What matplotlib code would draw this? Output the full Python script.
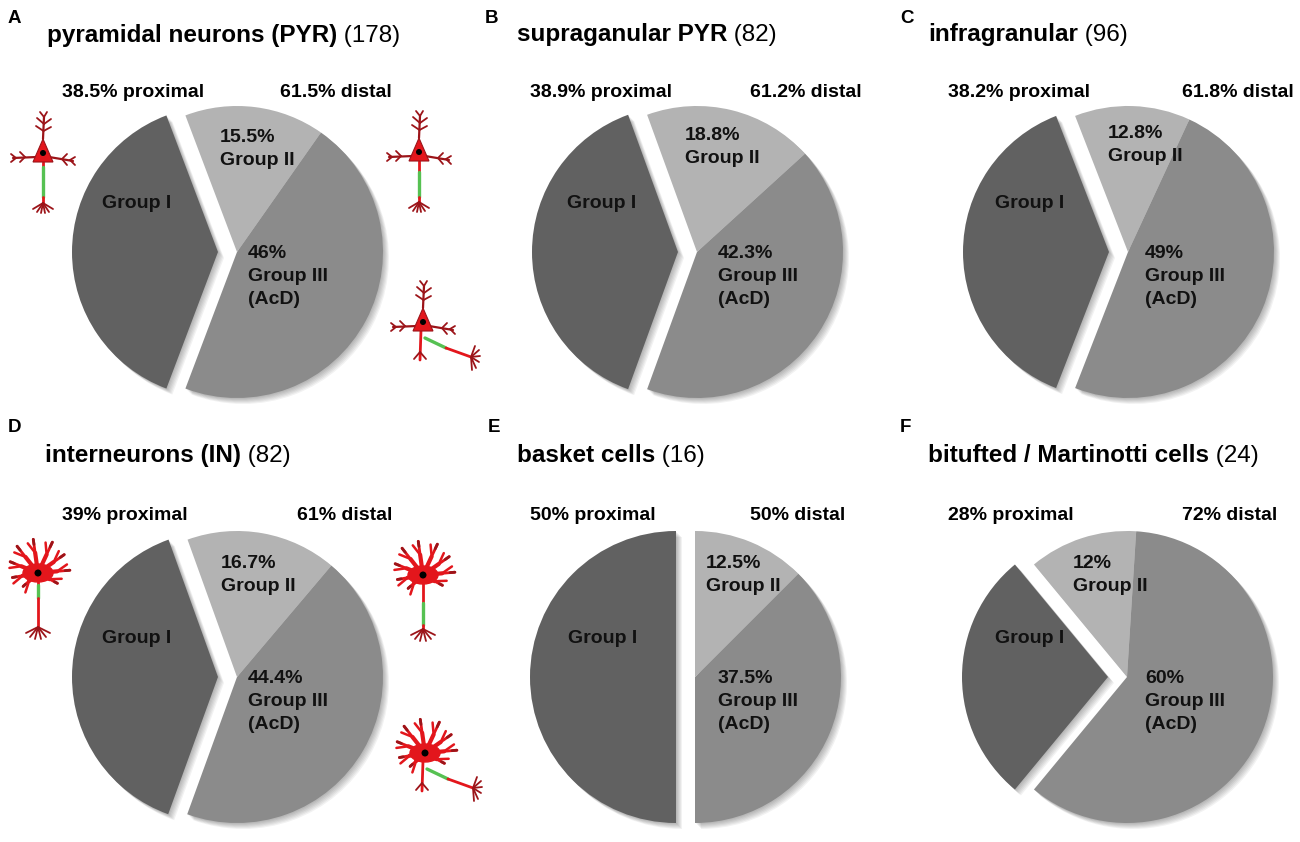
import math
import matplotlib
matplotlib.use("Agg")
import matplotlib.pyplot as plt
from matplotlib.patches import Polygon, Circle, Ellipse

plt.rcParams['font.family'] = ['Liberation Sans', 'DejaVu Sans']

# ---- data ----
letters = ['A', 'B', 'C', 'D', 'E', 'F']
titles = ['pyramidal neurons (PYR)', 'supraganular PYR', 'infragranular',
          'interneurons (IN)', 'basket cells', 'bitufted / Martinotti cells']
counts = [178, 82, 96, 82, 16, 24]
group1 = [38.5, 38.9, 38.2, 39, 50, 28]
group2 = [15.5, 18.8, 12.8, 16.7, 12.5, 12]
group3 = [46, 42.3, 49, 44.4, 37.5, 60]
proximal = [38.5, 38.9, 38.2, 39, 50, 28]
distal = [61.5, 61.2, 61.8, 61, 50, 72]

# ---- layout (image pixel coords, y down) ----
W, H = 1300, 842
R = 146
EXPL = 19
centers = [(237, 252), (697, 252), (1128, 252), (237, 677), (695, 677), (1127, 677)]
letter_xy = [(8, 23), (485, 23), (900, 23), (8, 432), (488, 432), (900, 432)]
title_xy = [(47, 42), (517, 41), (928, 41), (45, 462), (517, 462), (928, 462)]
prox_x = [62, 530, 948, 62, 530, 948]
dist_x = [280, 750, 1182, 297, 750, 1182]
lab_base = [97, 97, 97, 520, 520, 520]
g2_off = [(-17, -110), (-12, -112), (-20, -114), (-16, -109), (11, -109), (-54, -109)]
g1_off = [(-100, -44), (-95, -44), (-98, -44), (-100, -34), (-92, -34), (-97, -34)]
g3_off = [(11, 6), (21, 6), (17, 6), (11, 6), (23, 6), (18, 6)]

c_g1, c_g2, c_g3 = '#616161', '#b3b3b3', '#8b8b8b'
txt = '#111111'
red, dred, green = '#e3161c', '#9c1419', '#56c152'


def Y(y):
    return H - y


fig = plt.figure(figsize=(13, 8.42), dpi=100)
ax = fig.add_axes([0, 0, 1, 1])

for i in range(6):
    cx, cy = centers[i]
    vals = [group1[i], group3[i], group2[i]]
    start = 180 - group1[i] * 1.8
    # soft shadow
    for k in range(1, 7):
        ax.pie(vals, explode=[EXPL, 0, 0], startangle=start, radius=R,
               center=(cx + k, Y(cy) - k), colors=['k'] * 3, frame=True,
               wedgeprops=dict(linewidth=0, alpha=0.05))
    ax.pie(vals, explode=[EXPL, 0, 0], startangle=start, radius=R,
           center=(cx, Y(cy)), colors=[c_g1, c_g3, c_g2], frame=True,
           wedgeprops=dict(linewidth=0))

    lx, ly = letter_xy[i]
    ax.text(lx, Y(ly), letters[i], weight='bold', size=13.5, va='baseline')
    tx, ty = title_xy[i]
    t = ax.text(tx, Y(ty), titles[i], weight='bold', size=17.5, va='baseline')
    ax.annotate(f' ({counts[i]})', xy=(1, 0), xycoords=t, size=17.5,
                ha='left', va='bottom')

    ax.text(prox_x[i], Y(lab_base[i]), f'{proximal[i]:g}% proximal',
            weight='bold', size=14, va='baseline')
    ax.text(dist_x[i], Y(lab_base[i]), f'{distal[i]:g}% distal',
            weight='bold', size=14, va='baseline')

    ox, oy = g2_off[i]
    for j, s in enumerate([f'{group2[i]:g}%', 'Group II']):
        ax.text(cx + ox, Y(cy + oy + 23 * j), s, weight='bold', size=14,
                color=txt, va='baseline')
    ox, oy = g1_off[i]
    ax.text(cx + ox, Y(cy + oy), 'Group I', weight='bold', size=14,
            color=txt, va='baseline', ha='center')
    ox, oy = g3_off[i]
    for j, s in enumerate([f'{group3[i]:g}%', 'Group III', '(AcD)']):
        ax.text(cx + ox, Y(cy + oy + 23 * j), s, weight='bold', size=14,
                color=txt, va='baseline')


# ---- neuron sketches ----
def seg(x0, y0, pts, color, lw=1.6):
    xs = [x0 + p[0] for p in pts]
    ys = [Y(y0 + p[1]) for p in pts]
    ax.plot(xs, ys, color=color, lw=lw, solid_capstyle='round', zorder=5)


def tuft(x0, y0, bx, by, tips):
    for t in tips:
        seg(x0, y0, [(bx, by), t], dred, 1.3)


def axon_tilted(x0, y0):
    seg(x0, y0, [(-2, 8), (-3, 38)], red, 2)
    seg(x0, y0, [(-3, 30), (-9, 37)], dred, 1.3)
    seg(x0, y0, [(-3, 30), (3, 37)], dred, 1.3)
    seg(x0, y0, [(2, 16), (23, 26)], green, 2.4)
    seg(x0, y0, [(23, 26), (48, 35)], red, 2)
    tuft(x0, y0, 48, 35, [(52, 24), (56, 28), (57, 34), (56, 40), (53, 46), (49, 48)])


def pyramidal(x0, y0, g0=14, g1=44, tilted=False):
    seg(x0, y0, [(0, -14), (1, -36)], dred)
    for a, b in [((0.5, -22), (-7, -27)), ((0.5, -22), (8, -26)),
                 ((1, -29), (-6, -35)), ((1, -29), (8, -34)),
                 ((1, -36), (-3, -41)), ((1, -36), (4, -41))]:
        seg(x0, y0, [a, b], dred, 1.3)
    seg(x0, y0, [(-6, 4), (-30, 5)], dred)
    seg(x0, y0, [(6, 4), (30, 8)], dred)
    for a, b in [((-18, 4), (-23, -1)), ((-18, 4), (-23, 9)), ((-27, 5), (-32, 1)),
                 ((-27, 5), (-32, 9)), ((19, 6), (24, 1)), ((19, 6), (24, 12)),
                 ((27, 7), (32, 4)), ((27, 7), (32, 12))]:
        seg(x0, y0, [a, b], dred, 1.3)
    if tilted:
        axon_tilted(x0, y0)
    else:
        seg(x0, y0, [(0, 9), (0, g0)], red, 2)
        seg(x0, y0, [(0, g0), (0, g1)], green, 2.4)
        seg(x0, y0, [(0, g1), (0, 50)], red, 2)
        tuft(x0, y0, 0, 50, [(-10, 56), (-6, 59), (-2, 60), (2, 60), (6, 59), (10, 56)])
    ax.add_patch(Polygon([(x0, Y(y0 - 14)), (x0 - 10, Y(y0 + 9)), (x0 + 10, Y(y0 + 9))],
                         closed=True, fc=red, ec=dred, lw=0.8, zorder=6))
    ax.add_patch(Circle((x0, Y(y0)), 3, fc='k', zorder=7))


def interneuron(x0, y0, g0=12, g1=25, tilted=False):
    dends = [(98, 34), (128, 34), (158, 30), (190, 26), (222, 20),
             (65, 34), (35, 32), (5, 32), (-28, 22)]
    for ang, L in dends:
        a = math.radians(ang)
        ex, ey = L * math.cos(a), -L * math.sin(a)
        seg(x0, y0, [(0, 0), (0.6 * ex, 0.6 * ey)], red, 3)
        seg(x0, y0, [(0.6 * ex, 0.6 * ey), (ex, ey)], red, 2)
        b = math.radians(ang + 30)
        mx, my = 0.6 * ex, 0.6 * ey
        seg(x0, y0, [(mx, my), (mx + 12 * math.cos(b), my - 12 * math.sin(b))], red, 1.8)
        seg(x0, y0, [(0.85 * ex, 0.85 * ey), (ex, ey)], dred, 2)
    if tilted:
        axon_tilted(x0, y0)
    else:
        seg(x0, y0, [(0, 8), (0, g0)], red, 2)
        seg(x0, y0, [(0, g0), (0, g1)], green, 2.4)
        seg(x0, y0, [(0, g1), (0, 54)], red, 2)
        tuft(x0, y0, 0, 54, [(-12, 60), (-8, 64), (-3, 66), (3, 66), (8, 64), (12, 60)])
    ax.add_patch(Ellipse((x0, Y(y0)), 30, 18, fc=red, ec=red, zorder=6))
    ax.add_patch(Circle((x0, Y(y0)), 3.5, fc='k', zorder=7))


pyramidal(43, 153, 14, 44)
pyramidal(419, 152, 20, 45)
pyramidal(423, 322, tilted=True)
interneuron(38, 573, 12, 25)
interneuron(423, 575, 28, 50)
interneuron(425, 753, tilted=True)

ax.set_xlim(0, W)
ax.set_ylim(0, H)
ax.set_aspect('equal')
ax.axis('off')
fig.savefig('out.png', dpi=100, facecolor='white')
